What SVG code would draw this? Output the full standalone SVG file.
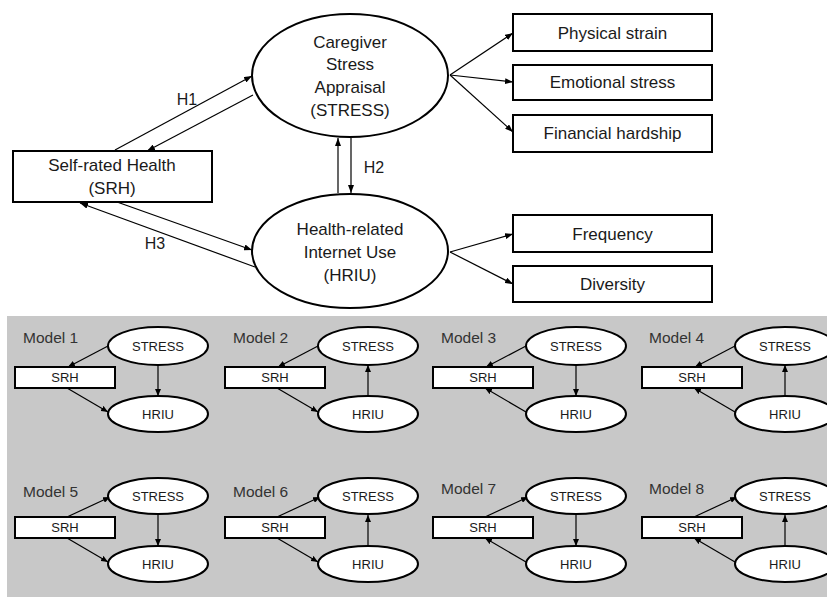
<svg xmlns="http://www.w3.org/2000/svg" width="827" height="597" viewBox="0 0 827 597">
<defs>
<marker id="ah" viewBox="0 0 8 6" refX="8" refY="3" markerWidth="8" markerHeight="6" markerUnits="userSpaceOnUse" orient="auto"><path d="M0,0 L8,3 L0,6 z" fill="#000"/></marker>
<marker id="as" viewBox="0 0 7 6" refX="7" refY="3" markerWidth="7" markerHeight="6" markerUnits="userSpaceOnUse" orient="auto"><path d="M0,0 L7,3 L0,6 z" fill="#000"/></marker>
</defs>
<style>
text{font-family:"Liberation Sans",Arial,sans-serif;fill:#1a1a1a;text-anchor:middle}
.big{font-size:17px}
.lbl{font-size:16px}
.sm{font-size:13px}
.ml{font-size:15.5px;text-anchor:start;fill:#333}
.node{fill:#fff;stroke:#000;stroke-width:2}
.edge{stroke:#000;stroke-width:1.2;fill:none;marker-end:url(#ah)}
.sedge{stroke:#000;stroke-width:1.2;fill:none;marker-end:url(#as)}
</style>
<rect width="827" height="597" fill="#fff"/>
<rect x="7" y="316" width="820" height="281" fill="#c8c8c8"/>

<g id="connectors">
<line class="edge" x1="115" y1="150" x2="252" y2="76"/>
<line class="edge" x1="253" y1="95" x2="147" y2="151"/>
<line class="edge" x1="338" y1="193" x2="338" y2="138"/>
<line class="edge" x1="351" y1="138" x2="351" y2="193"/>
<line class="edge" x1="117" y1="202" x2="252" y2="250"/>
<line class="edge" x1="255" y1="267" x2="80" y2="203"/>
<line class="edge" x1="450" y1="75" x2="513" y2="33"/>
<line class="edge" x1="450" y1="75" x2="513" y2="82"/>
<line class="edge" x1="450" y1="75" x2="513" y2="132"/>
<line class="edge" x1="450" y1="252" x2="513" y2="234"/>
<line class="edge" x1="450" y1="252" x2="513" y2="284"/>
<text class="lbl" x="187" y="105">H1</text>
<text class="lbl" x="374" y="173">H2</text>
<text class="lbl" x="155" y="249">H3</text>
</g>

<g id="stress">
<ellipse class="node" cx="350" cy="75.5" rx="98" ry="61.5"/>
<text class="big" x="350" y="48">Caregiver</text>
<text class="big" x="350" y="70">Stress</text>
<text class="big" x="350" y="93">Appraisal</text>
<text class="big" x="350" y="116">(STRESS)</text>
</g>
<g id="hriu">
<ellipse class="node" cx="350" cy="251" rx="98" ry="57"/>
<text class="big" x="350" y="235">Health-related</text>
<text class="big" x="350" y="258">Internet Use</text>
<text class="big" x="350" y="281">(HRIU)</text>
</g>
<g id="srh">
<rect class="node" x="13" y="151" width="199" height="51"/>
<text class="big" x="112" y="171">Self-rated Health</text>
<text class="big" x="112" y="194">(SRH)</text>
</g>
<g id="physical"><rect class="node" x="513" y="14" width="199" height="37"/><text class="big" x="612.5" y="39">Physical strain</text></g>
<g id="emotional"><rect class="node" x="513" y="65" width="199" height="35"/><text class="big" x="612.5" y="88">Emotional stress</text></g>
<g id="financial"><rect class="node" x="513" y="115" width="199" height="37"/><text class="big" x="612.5" y="139">Financial hardship</text></g>
<g id="frequency"><rect class="node" x="513" y="215" width="199" height="37"/><text class="big" x="612.5" y="240">Frequency</text></g>
<g id="diversity"><rect class="node" x="513" y="266" width="199" height="36"/><text class="big" x="612.5" y="290">Diversity</text></g>

<!-- Model 1 -->
<g id="model1">
<text class="ml" x="23" y="343">Model 1</text>
<line class="sedge" x1="108" y1="346" x2="68" y2="367"/>
<line class="sedge" x1="67" y1="388" x2="108" y2="412"/>
<line class="sedge" x1="158" y1="365" x2="158" y2="396"/>
<rect class="node" x="15" y="367" width="100" height="21"/><text class="sm" x="65" y="382">SRH</text>
<ellipse class="node" cx="158" cy="346" rx="50" ry="19"/><text class="sm" x="158" y="351">STRESS</text>
<ellipse class="node" cx="158" cy="414" rx="50" ry="18"/><text class="sm" x="158" y="419">HRIU</text>
</g>
<!-- Model 2 -->
<g id="model2">
<text class="ml" x="233" y="343">Model 2</text>
<line class="sedge" x1="318" y1="346" x2="278" y2="367"/>
<line class="sedge" x1="277" y1="388" x2="318" y2="412"/>
<line class="sedge" x1="368" y1="396" x2="368" y2="365"/>
<rect class="node" x="225" y="367" width="100" height="21"/><text class="sm" x="275" y="382">SRH</text>
<ellipse class="node" cx="368" cy="346" rx="50" ry="19"/><text class="sm" x="368" y="351">STRESS</text>
<ellipse class="node" cx="368" cy="414" rx="50" ry="18"/><text class="sm" x="368" y="419">HRIU</text>
</g>
<!-- Model 3 -->
<g id="model3">
<text class="ml" x="441" y="343">Model 3</text>
<line class="sedge" x1="526" y1="346" x2="486" y2="367"/>
<line class="sedge" x1="526" y1="412" x2="485" y2="388"/>
<line class="sedge" x1="576" y1="365" x2="576" y2="396"/>
<rect class="node" x="433" y="367" width="100" height="21"/><text class="sm" x="483" y="382">SRH</text>
<ellipse class="node" cx="576" cy="346" rx="50" ry="19"/><text class="sm" x="576" y="351">STRESS</text>
<ellipse class="node" cx="576" cy="414" rx="50" ry="18"/><text class="sm" x="576" y="419">HRIU</text>
</g>
<!-- Model 4 -->
<g id="model4">
<text class="ml" x="649" y="343">Model 4</text>
<line class="sedge" x1="735" y1="346" x2="695" y2="367"/>
<line class="sedge" x1="735" y1="412" x2="694" y2="388"/>
<line class="sedge" x1="785" y1="396" x2="785" y2="365"/>
<rect class="node" x="642" y="367" width="100" height="21"/><text class="sm" x="692" y="382">SRH</text>
<ellipse class="node" cx="785" cy="346" rx="50" ry="19"/><text class="sm" x="785" y="351">STRESS</text>
<ellipse class="node" cx="785" cy="414" rx="50" ry="18"/><text class="sm" x="785" y="419">HRIU</text>
</g>
<!-- Model 5 -->
<g id="model5">
<text class="ml" x="23" y="497">Model 5</text>
<line class="sedge" x1="67" y1="517" x2="110" y2="497"/>
<line class="sedge" x1="67" y1="538" x2="108" y2="562"/>
<line class="sedge" x1="158" y1="515" x2="158" y2="546"/>
<rect class="node" x="15" y="517" width="100" height="21"/><text class="sm" x="65" y="532">SRH</text>
<ellipse class="node" cx="158" cy="496" rx="50" ry="18"/><text class="sm" x="158" y="501">STRESS</text>
<ellipse class="node" cx="158" cy="564" rx="50" ry="18"/><text class="sm" x="158" y="569">HRIU</text>
</g>
<!-- Model 6 -->
<g id="model6">
<text class="ml" x="233" y="497">Model 6</text>
<line class="sedge" x1="277" y1="517" x2="320" y2="497"/>
<line class="sedge" x1="277" y1="538" x2="318" y2="562"/>
<line class="sedge" x1="368" y1="546" x2="368" y2="515"/>
<rect class="node" x="225" y="517" width="100" height="21"/><text class="sm" x="275" y="532">SRH</text>
<ellipse class="node" cx="368" cy="496" rx="50" ry="18"/><text class="sm" x="368" y="501">STRESS</text>
<ellipse class="node" cx="368" cy="564" rx="50" ry="18"/><text class="sm" x="368" y="569">HRIU</text>
</g>
<!-- Model 7 -->
<g id="model7">
<text class="ml" x="441" y="494">Model 7</text>
<line class="sedge" x1="485" y1="517" x2="528" y2="497"/>
<line class="sedge" x1="526" y1="562" x2="485" y2="538"/>
<line class="sedge" x1="576" y1="515" x2="576" y2="546"/>
<rect class="node" x="433" y="517" width="100" height="21"/><text class="sm" x="483" y="532">SRH</text>
<ellipse class="node" cx="576" cy="496" rx="50" ry="18"/><text class="sm" x="576" y="501">STRESS</text>
<ellipse class="node" cx="576" cy="564" rx="50" ry="18"/><text class="sm" x="576" y="569">HRIU</text>
</g>
<!-- Model 8 -->
<g id="model8">
<text class="ml" x="649" y="494">Model 8</text>
<line class="sedge" x1="694" y1="517" x2="737" y2="497"/>
<line class="sedge" x1="735" y1="562" x2="694" y2="538"/>
<line class="sedge" x1="785" y1="546" x2="785" y2="515"/>
<rect class="node" x="642" y="517" width="100" height="21"/><text class="sm" x="692" y="532">SRH</text>
<ellipse class="node" cx="785" cy="496" rx="50" ry="18"/><text class="sm" x="785" y="501">STRESS</text>
<ellipse class="node" cx="785" cy="564" rx="50" ry="18"/><text class="sm" x="785" y="569">HRIU</text>
</g>
</svg>
